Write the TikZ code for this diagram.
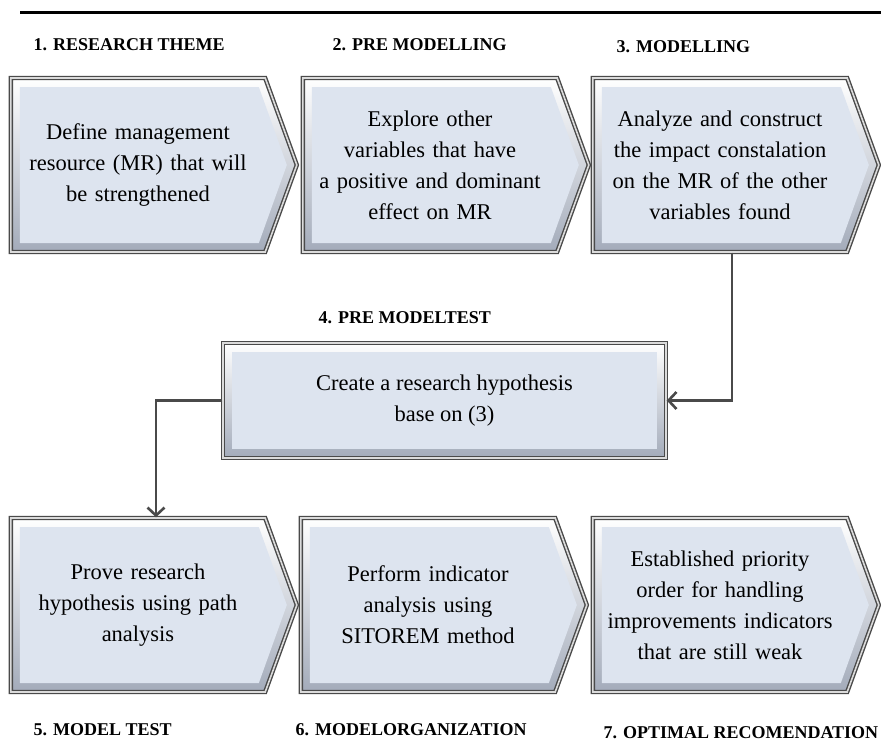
\documentclass[tikz,border=0pt]{standalone}
\usepackage{fontspec}
\setmainfont{Liberation Serif}
\usetikzlibrary{shapes.symbols,arrows.meta}
\definecolor{boxfill}{HTML}{DDE4EF}
\definecolor{boxline}{HTML}{4A4A4A}
\definecolor{bevel}{HTML}{A3ABBA}

\begin{document}
\begin{tikzpicture}[x=1pt, y=-1pt, auto,
    >={Straight Barb[length=8pt,width=17pt]},
    stage/.style={signal, signal to=east, signal pointer angle=140,
      minimum width=286pt, minimum height=174pt, inner sep=0pt,
      draw=boxline, double=white!80!boxline, double distance=1.6pt, line width=1.4pt,
      fill=boxfill, text width=250pt, align=center,
      font=\fontsize{22.5}{31}\selectfont,
      path picture={
        \shade[top color=white, bottom color=bevel]
          (path picture bounding box.south west) rectangle (path picture bounding box.north east);
        \fill[boxfill] ([shift={(9pt,-9pt)}]path picture bounding box.north west)
          -- ([shift={(-38pt,-9pt)}]path picture bounding box.north east)
          -- ([shift={(-10pt,0pt)}]path picture bounding box.east)
          -- ([shift={(-38pt,9pt)}]path picture bounding box.south east)
          -- ([shift={(9pt,9pt)}]path picture bounding box.south west) -- cycle;
      }},
    hypo/.style={rectangle, minimum width=443pt, minimum height=115pt, inner sep=0pt,
      draw=boxline, double=white!80!boxline, double distance=1.6pt, line width=1.4pt,
      fill=boxfill, align=center,
      font=\fontsize{22.5}{31}\selectfont,
      path picture={
        \shade[top color=white, bottom color=bevel]
          (path picture bounding box.south west) rectangle (path picture bounding box.north east);
        \fill[boxfill] ([shift={(9pt,9pt)}]path picture bounding box.south west)
          rectangle ([shift={(-9pt,-9pt)}]path picture bounding box.north east);
      }},
    phase/.style={anchor=west, font=\fontsize{18}{20}\selectfont\bfseries},
    link/.style={->, draw=boxline, line width=2.6pt}]
        \useasboundingbox (0,0) rectangle (881,744);
        \draw[line width=3pt] (20,12) -- (881,12);

        \node[phase] (l1) at (30,45) {1. RESEARCH THEME};
        \node[phase] (l2) at (329,45) {2. PRE MODELLING};
        \node[phase] (l3) at (613,47) {3. MODELLING};
        \node[phase] (l4) at (315,318) {4. PRE MODELTEST};
        \node[phase] (l5) at (30,730) {5. MODEL TEST};
        \node[phase] (l6) at (292,730) {6. MODELORGANIZATION};
        \node[phase] (l7) at (600,733) {7. OPTIMAL RECOMENDATION};

        \node[stage] (theme) at (138,165) {Define management\\resource (MR) that will\\be strengthened};
        \node[stage] (premod) at (430,165) {Explore other\\variables that have\\a positive and dominant\\effect on MR};
        \node[stage] (mod) at (720,165) {Analyze and construct\\the impact constalation\\on the MR of the other\\variables found};

        \node[hypo] (hypo) at (444.5,400.5) {Create a research hypothesis\\base on (3)};

        \node[stage] (test) at (138,605) {Prove research\\hypothesis using path\\analysis};
        \node[stage] (org) at (428,605) {Perform indicator\\analysis using\\SITOREM method};
        \node[stage] (recom) at (720,605) {Established priority\\order for handling\\improvements indicators\\that are still weak};

        \draw[link] ([xshift=12pt]mod.south) |- (hypo.east);
        \draw[link] (hypo.west) -| ([xshift=18pt]test.north);
      \end{tikzpicture}
\end{document}
